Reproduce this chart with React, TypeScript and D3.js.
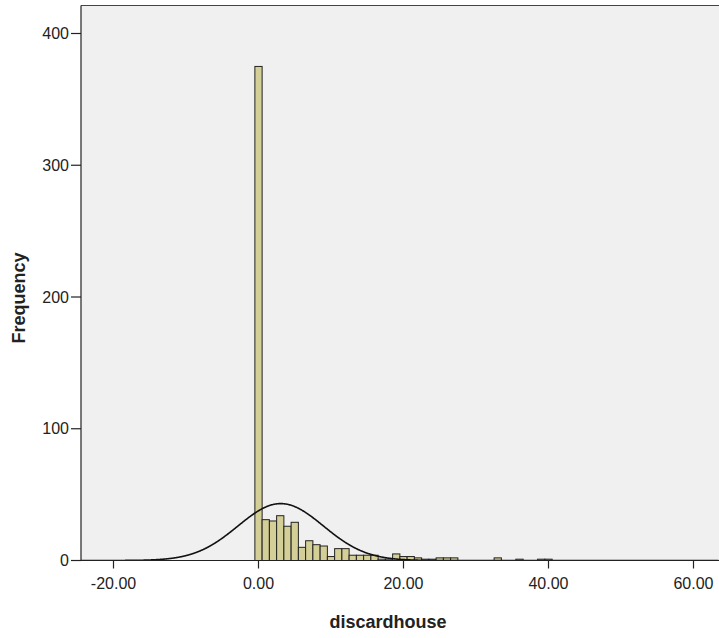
import React from "react";
import * as d3 from "d3";

// Histogram of discardhouse: bin centers (integers) and frequencies
const binCenters = [0,1,2,3,4,5,6,7,8,9,10,11,12,13,14,15,16,17,18,19,20,21,22,23,24,25,26,27,28,29,30,31,32,33,34,35,36,37,38,39,40];
const frequencies = [375,31,30,34,26,29,10,15,12,11,3,9,9,4,4,4,4,1,1,5,3,3,2,1,1,2,2,2,0,0,0,0,0,2,0,0,1,0,0,1,1];
const binWidth = 1;
const xTicks = [-20, 0, 20, 40, 60];
const yTicks = [0, 100, 200, 300, 400];
const xLabel = "discardhouse";
const yLabel = "Frequency";

const W = 719, H = 638;
const plotLeft = 81, plotTop = 5.5, plotBottom = 560.5, plotRight = 740;

export default function App() {
  const x = d3.scaleLinear().domain([-20, 60]).range([113.5, 693.5]);
  const y = d3.scaleLinear().domain([0, 400]).range([plotBottom, 33.5]);

  const N = d3.sum(frequencies);
  const mean = d3.sum(binCenters.map((c, i) => c * frequencies[i])) / N;
  const variance = d3.sum(binCenters.map((c, i) => (c - mean) ** 2 * frequencies[i])) / (N - 1);
  const sd = Math.sqrt(variance);
  const xMin = x.invert(plotLeft), xMax = x.invert(W);
  const curvePts = d3.range(xMin, xMax, 0.1).map((v) => [
    v,
    (N * binWidth) / (sd * Math.sqrt(2 * Math.PI)) * Math.exp(-0.5 * ((v - mean) / sd) ** 2),
  ]);
  const line = d3.line<number[]>().x((d) => x(d[0])).y((d) => y(d[1])).curve(d3.curveBasis);

  const font = "'Liberation Sans', Arial, sans-serif";

  return (
    <svg width={W} height={H} style={{ position: "absolute", left: 0, top: 0 }}>
      <rect x={0} y={0} width={W} height={H} fill="#ffffff" />
      <defs>
        <clipPath id="plotclip">
          <rect x={plotLeft} y={plotTop} width={plotRight - plotLeft} height={plotBottom - plotTop} />
        </clipPath>
      </defs>
      <rect x={plotLeft} y={plotTop} width={plotRight - plotLeft} height={plotBottom - plotTop} fill="#f0f0f0" />
      <g clipPath="url(#plotclip)">
        {binCenters.map((c, i) =>
          frequencies[i] > 0 ? (
            <rect
              key={i}
              x={x(c - binWidth / 2)}
              y={y(frequencies[i])}
              width={x(c + binWidth / 2) - x(c - binWidth / 2)}
              height={plotBottom - y(frequencies[i])}
              fill="#d4cf96"
              stroke="#222"
              strokeWidth={1}
            />
          ) : null
        )}
        <path d={line(curvePts) || ""} fill="none" stroke="#111" strokeWidth={1.6} />
      </g>
      {/* frame */}
      <line x1={plotLeft} x2={plotRight} y1={plotTop} y2={plotTop} stroke="#444" strokeWidth={1} />
      <line x1={plotLeft} x2={plotLeft} y1={plotTop} y2={plotBottom} stroke="#222" strokeWidth={1.2} />
      <line x1={plotLeft} x2={plotRight} y1={plotBottom} y2={plotBottom} stroke="#222" strokeWidth={1.2} />
      {/* y ticks */}
      {yTicks.map((t) => (
        <g key={t}>
          <line x1={plotLeft - 10} x2={plotLeft} y1={y(t)} y2={y(t)} stroke="#222" strokeWidth={1.2} />
          <text x={plotLeft - 12} y={y(t)} dy="0.35em" textAnchor="end" fontFamily={font} fontSize={16} fill="#222">
            {t}
          </text>
        </g>
      ))}
      {/* x ticks */}
      {xTicks.map((t) => (
        <g key={t}>
          <line x1={x(t)} x2={x(t)} y1={plotBottom} y2={plotBottom + 8} stroke="#222" strokeWidth={1.2} />
          <text x={x(t)} y={plotBottom + 23} dy="0.35em" textAnchor="middle" fontFamily={font} fontSize={16} fill="#222">
            {t.toFixed(2)}
          </text>
        </g>
      ))}
      <text x={388} y={622} dy="0.35em" textAnchor="middle" fontFamily={font} fontSize={18} fontWeight="bold" fill="#222">
        {xLabel}
      </text>
      <text
        transform={`translate(19,${(plotTop + plotBottom) / 2 + 15}) rotate(-90)`}
        dy="0.35em"
        textAnchor="middle"
        fontFamily={font}
        fontSize={18}
        fontWeight="bold"
        fill="#222"
      >
        {yLabel}
      </text>
    </svg>
  );
}
